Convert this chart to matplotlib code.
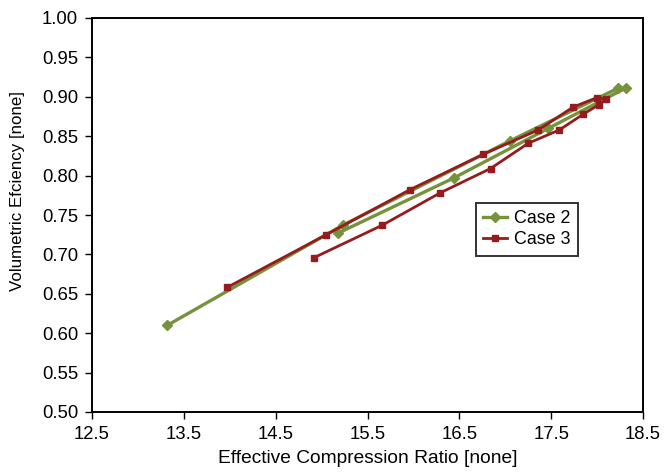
import matplotlib
matplotlib.use("Agg")
import matplotlib.pyplot as plt

plt.rcParams['font.family'] = ['Liberation Sans', 'DejaVu Sans']

# --- data ---
case2_ratio = [13.32, 15.23, 17.05, 18.23, 18.31, 17.47, 16.44, 15.18]
case2_ve = [0.610, 0.737, 0.844, 0.911, 0.911, 0.860, 0.797, 0.727]

case3_ratio = [13.97, 15.05, 15.96, 16.76, 17.36, 17.74, 18.00, 18.10,
               18.02, 17.85, 17.59, 17.25, 16.84, 16.29, 15.66, 14.92]
case3_ve = [0.658, 0.725, 0.782, 0.827, 0.858, 0.887, 0.899, 0.897,
            0.890, 0.878, 0.858, 0.841, 0.809, 0.778, 0.737, 0.696]

x_ticks = [12.5, 13.5, 14.5, 15.5, 16.5, 17.5, 18.5]
y_ticks = [0.50, 0.55, 0.60, 0.65, 0.70, 0.75, 0.80, 0.85, 0.90, 0.95, 1.00]

GREEN = '#76923C'
RED = '#951B1E'

fig = plt.figure(figsize=(6.65, 4.75), dpi=100)
ax = fig.add_axes([92 / 665, 63 / 475, 551 / 665, 394 / 475])

ax.plot(case2_ratio, case2_ve, color=GREEN, lw=2.4, marker='D', ms=5.5,
        label='Case 2')
ax.plot(case3_ratio, case3_ve, color=RED, lw=2.0, marker='s', ms=5,
        label='Case 3')

ax.set_xlim(12.5, 18.5)
ax.set_ylim(0.50, 1.00)
ax.set_xticks(x_ticks)
ax.set_xticklabels([f'{t:.1f}' for t in x_ticks])
ax.set_yticks(y_ticks)
ax.set_yticklabels([f'{t:.2f}' for t in y_ticks])
ax.tick_params(direction='out', length=5, width=1, labelsize=13.3, pad=5)

for side in ['left', 'bottom', 'top', 'right']:
    ax.spines[side].set_linewidth(1.4)
    ax.spines[side].set_color('black')

ax.set_xlabel('Effective Compression Ratio [none]', fontsize=13.8, labelpad=5)
ax.set_ylabel('Volumetric Efciency [none]', fontsize=12.2)
ax.yaxis.set_label_coords(-0.122, 0.561)

leg = ax.legend(loc='center', bbox_to_anchor=(0.789, 0.464), fontsize=12.9,
                frameon=True, fancybox=False, handlelength=1.35,
                borderpad=0.4, labelspacing=0.25, handletextpad=0.4,
                borderaxespad=0)
leg.get_frame().set_edgecolor('black')
leg.get_frame().set_linewidth(1.4)

fig.savefig('out.png', dpi=100)
